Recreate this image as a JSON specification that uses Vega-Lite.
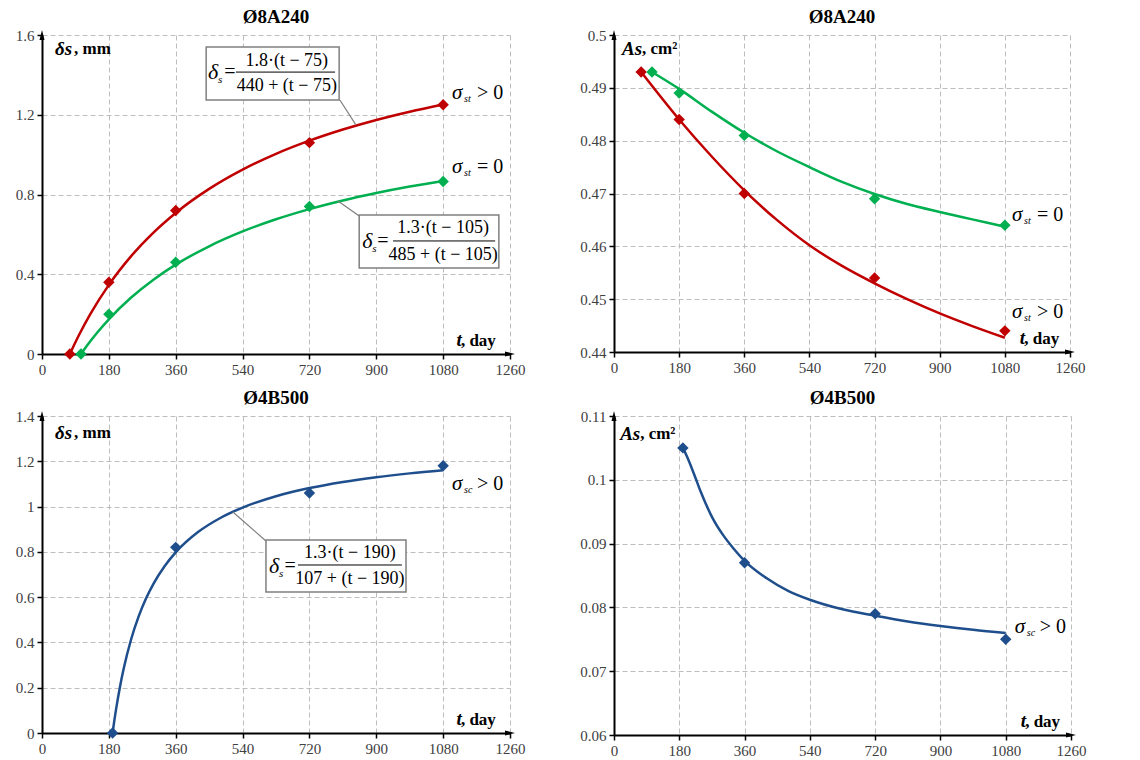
{
  "$schema": "https://vega.github.io/schema/vega-lite/v6.json",
  "padding": {"left": 15, "top": 8, "right": 5, "bottom": 5},
  "background": "white",
  "config": {
    "view": {"stroke": null},
    "font": "Liberation Serif",
    "axis": {"labelFont": "Liberation Serif", "labelFontSize": 15, "labelColor": "#404040", "domainColor": "#000000", "domainWidth": 2, "tickColor": "#000000", "tickSize": 5, "tickWidth": 1.5, "gridColor": "#bdbdbd", "gridDash": [5, 3], "gridWidth": 1, "labelPadding": 3, "labelFlush": false, "labelOverlap": false},
    "title": {"font": "Liberation Serif", "fontSize": 19, "fontWeight": "bold", "color": "#000000", "offset": 1, "frame": "group"},
    "text": {"font": "Liberation Serif", "color": "#000000"}
  },
  "datasets": {
    "curves": [
      {"panel": "A", "series": "gt", "t": 75, "v": 0}, {"panel": "A", "series": "gt", "t": 90, "v": 0.0593}, {"panel": "A", "series": "gt", "t": 100, "v": 0.0968}, {"panel": "A", "series": "gt", "t": 130, "v": 0.2}, {"panel": "A", "series": "gt", "t": 180, "v": 0.3468}, {"panel": "A", "series": "gt", "t": 240, "v": 0.4909}, {"panel": "A", "series": "gt", "t": 300, "v": 0.609}, {"panel": "A", "series": "gt", "t": 360, "v": 0.7076}, {"panel": "A", "series": "gt", "t": 450, "v": 0.8282}, {"panel": "A", "series": "gt", "t": 540, "v": 0.9249}, {"panel": "A", "series": "gt", "t": 630, "v": 1.004}, {"panel": "A", "series": "gt", "t": 720, "v": 1.07}, {"panel": "A", "series": "gt", "t": 810, "v": 1.126}, {"panel": "A", "series": "gt", "t": 900, "v": 1.174}, {"panel": "A", "series": "gt", "t": 990, "v": 1.2155}, {"panel": "A", "series": "gt", "t": 1080, "v": 1.2519},
      {"panel": "A", "series": "eq", "t": 105, "v": 0}, {"panel": "A", "series": "eq", "t": 115, "v": 0.0263}, {"panel": "A", "series": "eq", "t": 130, "v": 0.0637}, {"panel": "A", "series": "eq", "t": 150, "v": 0.1104}, {"panel": "A", "series": "eq", "t": 180, "v": 0.1741}, {"panel": "A", "series": "eq", "t": 240, "v": 0.2831}, {"panel": "A", "series": "eq", "t": 300, "v": 0.3728}, {"panel": "A", "series": "eq", "t": 360, "v": 0.448}, {"panel": "A", "series": "eq", "t": 450, "v": 0.5404}, {"panel": "A", "series": "eq", "t": 540, "v": 0.6147}, {"panel": "A", "series": "eq", "t": 630, "v": 0.6757}, {"panel": "A", "series": "eq", "t": 720, "v": 0.7268}, {"panel": "A", "series": "eq", "t": 810, "v": 0.7702}, {"panel": "A", "series": "eq", "t": 900, "v": 0.8074}, {"panel": "A", "series": "eq", "t": 990, "v": 0.8398}, {"panel": "A", "series": "eq", "t": 1080, "v": 0.8682},
      {"panel": "B", "series": "gt", "t": 75, "v": 0.493}, {"panel": "B", "series": "gt", "t": 180, "v": 0.484}, {"panel": "B", "series": "gt", "t": 270, "v": 0.477}, {"panel": "B", "series": "gt", "t": 360, "v": 0.4706}, {"panel": "B", "series": "gt", "t": 450, "v": 0.465}, {"panel": "B", "series": "gt", "t": 540, "v": 0.4602}, {"panel": "B", "series": "gt", "t": 630, "v": 0.4563}, {"panel": "B", "series": "gt", "t": 720, "v": 0.453}, {"panel": "B", "series": "gt", "t": 810, "v": 0.45}, {"panel": "B", "series": "gt", "t": 900, "v": 0.4473}, {"panel": "B", "series": "gt", "t": 990, "v": 0.4449}, {"panel": "B", "series": "gt", "t": 1080, "v": 0.4427},
      {"panel": "B", "series": "eq", "t": 105, "v": 0.493}, {"panel": "B", "series": "eq", "t": 180, "v": 0.4898}, {"panel": "B", "series": "eq", "t": 270, "v": 0.4855}, {"panel": "B", "series": "eq", "t": 360, "v": 0.4815}, {"panel": "B", "series": "eq", "t": 450, "v": 0.478}, {"panel": "B", "series": "eq", "t": 540, "v": 0.475}, {"panel": "B", "series": "eq", "t": 630, "v": 0.4722}, {"panel": "B", "series": "eq", "t": 720, "v": 0.4699}, {"panel": "B", "series": "eq", "t": 810, "v": 0.468}, {"panel": "B", "series": "eq", "t": 900, "v": 0.4665}, {"panel": "B", "series": "eq", "t": 990, "v": 0.4651}, {"panel": "B", "series": "eq", "t": 1080, "v": 0.4637},
      {"panel": "C", "series": "sc", "t": 190, "v": 0}, {"panel": "C", "series": "sc", "t": 195, "v": 0.058}, {"panel": "C", "series": "sc", "t": 200, "v": 0.1111}, {"panel": "C", "series": "sc", "t": 210, "v": 0.2047}, {"panel": "C", "series": "sc", "t": 220, "v": 0.2847}, {"panel": "C", "series": "sc", "t": 240, "v": 0.414}, {"panel": "C", "series": "sc", "t": 260, "v": 0.5141}, {"panel": "C", "series": "sc", "t": 280, "v": 0.5939}, {"panel": "C", "series": "sc", "t": 300, "v": 0.659}, {"panel": "C", "series": "sc", "t": 330, "v": 0.7368}, {"panel": "C", "series": "sc", "t": 360, "v": 0.7978}, {"panel": "C", "series": "sc", "t": 420, "v": 0.8872}, {"panel": "C", "series": "sc", "t": 480, "v": 0.9496}, {"panel": "C", "series": "sc", "t": 540, "v": 0.9956}, {"panel": "C", "series": "sc", "t": 630, "v": 1.0457}, {"panel": "C", "series": "sc", "t": 720, "v": 1.0816}, {"panel": "C", "series": "sc", "t": 810, "v": 1.1087}, {"panel": "C", "series": "sc", "t": 900, "v": 1.1297}, {"panel": "C", "series": "sc", "t": 990, "v": 1.1466}, {"panel": "C", "series": "sc", "t": 1080, "v": 1.1605},
      {"panel": "D", "series": "sc", "t": 190, "v": 0.105}, {"panel": "D", "series": "sc", "t": 200, "v": 0.1038}, {"panel": "D", "series": "sc", "t": 220, "v": 0.101}, {"panel": "D", "series": "sc", "t": 240, "v": 0.098}, {"panel": "D", "series": "sc", "t": 270, "v": 0.0942}, {"panel": "D", "series": "sc", "t": 300, "v": 0.0914}, {"panel": "D", "series": "sc", "t": 330, "v": 0.0892}, {"panel": "D", "series": "sc", "t": 360, "v": 0.0873}, {"panel": "D", "series": "sc", "t": 420, "v": 0.0846}, {"panel": "D", "series": "sc", "t": 480, "v": 0.0826}, {"panel": "D", "series": "sc", "t": 540, "v": 0.0812}, {"panel": "D", "series": "sc", "t": 630, "v": 0.0797}, {"panel": "D", "series": "sc", "t": 720, "v": 0.0787}, {"panel": "D", "series": "sc", "t": 810, "v": 0.0778}, {"panel": "D", "series": "sc", "t": 900, "v": 0.0771}, {"panel": "D", "series": "sc", "t": 990, "v": 0.0765}, {"panel": "D", "series": "sc", "t": 1080, "v": 0.076}
    ],
    "points": [
      {"panel": "A", "series": "gt", "t": 75, "v": 0}, {"panel": "A", "series": "gt", "t": 180, "v": 0.36}, {"panel": "A", "series": "gt", "t": 360, "v": 0.72}, {"panel": "A", "series": "gt", "t": 720, "v": 1.06}, {"panel": "A", "series": "gt", "t": 1080, "v": 1.25},
      {"panel": "A", "series": "eq", "t": 105, "v": 0}, {"panel": "A", "series": "eq", "t": 180, "v": 0.2}, {"panel": "A", "series": "eq", "t": 360, "v": 0.46}, {"panel": "A", "series": "eq", "t": 720, "v": 0.74}, {"panel": "A", "series": "eq", "t": 1080, "v": 0.865},
      {"panel": "B", "series": "gt", "t": 75, "v": 0.493}, {"panel": "B", "series": "gt", "t": 180, "v": 0.484}, {"panel": "B", "series": "gt", "t": 360, "v": 0.47}, {"panel": "B", "series": "gt", "t": 720, "v": 0.454}, {"panel": "B", "series": "gt", "t": 1080, "v": 0.444},
      {"panel": "B", "series": "eq", "t": 105, "v": 0.493}, {"panel": "B", "series": "eq", "t": 180, "v": 0.489}, {"panel": "B", "series": "eq", "t": 360, "v": 0.481}, {"panel": "B", "series": "eq", "t": 720, "v": 0.469}, {"panel": "B", "series": "eq", "t": 1080, "v": 0.464},
      {"panel": "C", "series": "sc", "t": 190, "v": 0}, {"panel": "C", "series": "sc", "t": 360, "v": 0.82}, {"panel": "C", "series": "sc", "t": 720, "v": 1.06}, {"panel": "C", "series": "sc", "t": 1080, "v": 1.18},
      {"panel": "D", "series": "sc", "t": 190, "v": 0.105}, {"panel": "D", "series": "sc", "t": 360, "v": 0.087}, {"panel": "D", "series": "sc", "t": 720, "v": 0.079}, {"panel": "D", "series": "sc", "t": 1080, "v": 0.075}
    ]
  },
  "spacing": 12,
  "vconcat": [
    {
      "spacing": 104,
      "bounds": "flush",
      "hconcat": [
        {
          "width": 468, "height": 319,
          "title": "Ø8A240",
          "data": {"values": [{}]},
          "layer": [
            {"data": {"name": "curves"}, "transform": [{"filter": "datum.panel == 'A'"}], "mark": {"type": "line", "interpolate": "monotone", "strokeWidth": 2.5},
             "encoding": {"x": {"field": "t", "type": "quantitative", "title": null, "scale": {"domain": [0, 1260], "nice": false}, "axis": {"values": [0, 180, 360, 540, 720, 900, 1080, 1260], "format": "d", "title": null}},
                          "y": {"field": "v", "type": "quantitative", "title": null, "scale": {"domain": [0, 1.6], "nice": false}, "axis": {"values": [0, 0.4, 0.8, 1.2, 1.6], "format": "~g", "title": null}},
                          "color": {"field": "series", "type": "nominal", "scale": {"domain": ["gt", "eq", "sc"], "range": ["#C00000", "#00B050", "#1F4E8C"]}, "legend": null}}},
            {"data": {"name": "points"}, "transform": [{"filter": "datum.panel == 'A'"}], "mark": {"type": "point", "shape": "diamond", "filled": true, "size": 130, "opacity": 1},
             "encoding": {"x": {"field": "t", "type": "quantitative", "title": null}, "y": {"field": "v", "type": "quantitative", "title": null}, "color": {"field": "series", "type": "nominal", "legend": null}}},
            {"mark": {"type": "point", "shape": "M-1,-0.5L1,0L-1,0.5Z", "filled": true, "color": "#000000", "size": 100, "opacity": 1}, "encoding": {"x": {"datum": 1260}, "y": {"datum": 0}}},
            {"mark": {"type": "point", "shape": "M-0.5,1L0,-1L0.5,1Z", "filled": true, "color": "#000000", "size": 100, "opacity": 1}, "encoding": {"x": {"datum": 0}, "y": {"datum": 1.6}}},
            {"mark": {"type": "rule", "color": "#7f7f7f", "strokeWidth": 1.2}, "encoding": {"x": {"datum": 802}, "y": {"datum": 1.274}, "x2": {"datum": 845}, "y2": {"datum": 1.149}}},
            {"mark": {"type": "rect", "fill": "#ffffff", "stroke": "#808080", "strokeWidth": 1.5}, "encoding": {"x": {"datum": 442}, "x2": {"datum": 800}, "y": {"datum": 1.54}, "y2": {"datum": 1.274}}},
            {"mark": {"type": "text", "text": "δ", "fontStyle": "italic", "fontSize": 22, "align": "left", "baseline": "middle"}, "encoding": {"x": {"datum": 447}, "y": {"datum": 1.414}}},
            {"mark": {"type": "text", "text": "s", "fontStyle": "italic", "fontSize": 11, "align": "left", "baseline": "middle", "dx": 10, "dy": 8}, "encoding": {"x": {"datum": 447}, "y": {"datum": 1.414}}},
            {"mark": {"type": "text", "text": "=", "fontSize": 20, "align": "center", "baseline": "middle"}, "encoding": {"x": {"datum": 506}, "y": {"datum": 1.414}}},
            {"mark": {"type": "text", "text": "1.8·(t − 75)", "fontSize": 18, "align": "center", "baseline": "middle"}, "encoding": {"x": {"datum": 659}, "y": {"datum": 1.47}}},
            {"mark": {"type": "rule", "color": "#000000", "strokeWidth": 1}, "encoding": {"x": {"datum": 522}, "x2": {"datum": 789}, "y": {"datum": 1.414}}},
            {"mark": {"type": "text", "text": "440 + (t − 75)", "fontSize": 18, "align": "center", "baseline": "middle"}, "encoding": {"x": {"datum": 659}, "y": {"datum": 1.344}}},
            {"mark": {"type": "rule", "color": "#7f7f7f", "strokeWidth": 1.2}, "encoding": {"x": {"datum": 797}, "y": {"datum": 0.767}, "x2": {"datum": 854}, "y2": {"datum": 0.692}}},
            {"mark": {"type": "rect", "fill": "#ffffff", "stroke": "#808080", "strokeWidth": 1.5}, "encoding": {"x": {"datum": 854}, "x2": {"datum": 1230}, "y": {"datum": 0.697}, "y2": {"datum": 0.431}}},
            {"mark": {"type": "text", "text": "δ", "fontStyle": "italic", "fontSize": 22, "align": "left", "baseline": "middle"}, "encoding": {"x": {"datum": 862}, "y": {"datum": 0.567}}},
            {"mark": {"type": "text", "text": "s", "fontStyle": "italic", "fontSize": 11, "align": "left", "baseline": "middle", "dx": 10, "dy": 8}, "encoding": {"x": {"datum": 862}, "y": {"datum": 0.567}}},
            {"mark": {"type": "text", "text": "=", "fontSize": 20, "align": "center", "baseline": "middle"}, "encoding": {"x": {"datum": 918}, "y": {"datum": 0.567}}},
            {"mark": {"type": "text", "text": "1.3·(t − 105)", "fontSize": 18, "align": "center", "baseline": "middle"}, "encoding": {"x": {"datum": 1080}, "y": {"datum": 0.632}}},
            {"mark": {"type": "rule", "color": "#000000", "strokeWidth": 1}, "encoding": {"x": {"datum": 945}, "x2": {"datum": 1220}, "y": {"datum": 0.567}}},
            {"mark": {"type": "text", "text": "485 + (t − 105)", "fontSize": 18, "align": "center", "baseline": "middle"}, "encoding": {"x": {"datum": 1080}, "y": {"datum": 0.497}}},
            {"mark": {"type": "text", "text": "σ", "fontStyle": "italic", "fontSize": 21, "align": "left", "baseline": "middle"}, "encoding": {"x": {"datum": 1104}, "y": {"datum": 1.309}}},
            {"mark": {"type": "text", "text": "st", "fontStyle": "italic", "fontSize": 10, "align": "left", "baseline": "middle", "dx": 12, "dy": 6}, "encoding": {"x": {"datum": 1104}, "y": {"datum": 1.309}}},
            {"mark": {"type": "text", "text": "> 0", "fontSize": 20, "align": "left", "baseline": "middle", "dx": 25}, "encoding": {"x": {"datum": 1104}, "y": {"datum": 1.309}}},
            {"mark": {"type": "text", "text": "σ", "fontStyle": "italic", "fontSize": 21, "align": "left", "baseline": "middle"}, "encoding": {"x": {"datum": 1104}, "y": {"datum": 0.938}}},
            {"mark": {"type": "text", "text": "st", "fontStyle": "italic", "fontSize": 10, "align": "left", "baseline": "middle", "dx": 12, "dy": 6}, "encoding": {"x": {"datum": 1104}, "y": {"datum": 0.938}}},
            {"mark": {"type": "text", "text": "= 0", "fontSize": 20, "align": "left", "baseline": "middle", "dx": 25}, "encoding": {"x": {"datum": 1104}, "y": {"datum": 0.938}}},
            {"mark": {"type": "text", "text": "δs", "fontStyle": "italic", "fontWeight": "bold", "fontSize": 19, "align": "left", "baseline": "middle"}, "encoding": {"x": {"datum": 35}, "y": {"datum": 1.53}}},
            {"mark": {"type": "text", "text": ", mm", "fontWeight": "bold", "fontSize": 17, "align": "left", "baseline": "middle", "dx": 19}, "encoding": {"x": {"datum": 35}, "y": {"datum": 1.53}}},
            {"mark": {"type": "text", "text": ", day", "fontWeight": "bold", "fontSize": 17, "align": "right", "baseline": "alphabetic", "dy": -8}, "encoding": {"x": {"datum": 1222}, "y": {"datum": 0}}},
            {"mark": {"type": "text", "text": "t", "fontStyle": "italic", "fontWeight": "bold", "fontSize": 19, "align": "right", "baseline": "alphabetic", "dx": -34, "dy": -8}, "encoding": {"x": {"datum": 1222}, "y": {"datum": 0}}}
          ]
        },
        {
          "width": 456, "height": 317,
          "title": "Ø8A240",
          "data": {"values": [{}]},
          "layer": [
            {"data": {"name": "curves"}, "transform": [{"filter": "datum.panel == 'B'"}], "mark": {"type": "line", "interpolate": "monotone", "strokeWidth": 2.5},
             "encoding": {"x": {"field": "t", "type": "quantitative", "title": null, "scale": {"domain": [0, 1260], "nice": false}, "axis": {"values": [0, 180, 360, 540, 720, 900, 1080, 1260], "format": "d", "title": null}},
                          "y": {"field": "v", "type": "quantitative", "title": null, "scale": {"domain": [0.44, 0.5], "nice": false, "zero": false}, "axis": {"values": [0.44, 0.45, 0.46, 0.47, 0.48, 0.49, 0.5], "format": "~g", "title": null}},
                          "color": {"field": "series", "type": "nominal", "scale": {"domain": ["gt", "eq", "sc"], "range": ["#C00000", "#00B050", "#1F4E8C"]}, "legend": null}}},
            {"data": {"name": "points"}, "transform": [{"filter": "datum.panel == 'B'"}], "mark": {"type": "point", "shape": "diamond", "filled": true, "size": 130, "opacity": 1},
             "encoding": {"x": {"field": "t", "type": "quantitative", "title": null}, "y": {"field": "v", "type": "quantitative", "title": null}, "color": {"field": "series", "type": "nominal", "legend": null}}},
            {"mark": {"type": "point", "shape": "M-1,-0.5L1,0L-1,0.5Z", "filled": true, "color": "#000000", "size": 100, "opacity": 1}, "encoding": {"x": {"datum": 1260}, "y": {"datum": 0.44}}},
            {"mark": {"type": "point", "shape": "M-0.5,1L0,-1L0.5,1Z", "filled": true, "color": "#000000", "size": 100, "opacity": 1}, "encoding": {"x": {"datum": 0}, "y": {"datum": 0.5}}},
            {"mark": {"type": "text", "text": "σ", "fontStyle": "italic", "fontSize": 21, "align": "left", "baseline": "middle"}, "encoding": {"x": {"datum": 1100}, "y": {"datum": 0.4659}}},
            {"mark": {"type": "text", "text": "st", "fontStyle": "italic", "fontSize": 10, "align": "left", "baseline": "middle", "dx": 12, "dy": 6}, "encoding": {"x": {"datum": 1100}, "y": {"datum": 0.4659}}},
            {"mark": {"type": "text", "text": "= 0", "fontSize": 20, "align": "left", "baseline": "middle", "dx": 25}, "encoding": {"x": {"datum": 1100}, "y": {"datum": 0.4659}}},
            {"mark": {"type": "text", "text": "σ", "fontStyle": "italic", "fontSize": 21, "align": "left", "baseline": "middle"}, "encoding": {"x": {"datum": 1100}, "y": {"datum": 0.4476}}},
            {"mark": {"type": "text", "text": "st", "fontStyle": "italic", "fontSize": 10, "align": "left", "baseline": "middle", "dx": 12, "dy": 6}, "encoding": {"x": {"datum": 1100}, "y": {"datum": 0.4476}}},
            {"mark": {"type": "text", "text": "> 0", "fontSize": 20, "align": "left", "baseline": "middle", "dx": 25}, "encoding": {"x": {"datum": 1100}, "y": {"datum": 0.4476}}},
            {"mark": {"type": "text", "text": "As", "fontStyle": "italic", "fontWeight": "bold", "fontSize": 19, "align": "left", "baseline": "middle"}, "encoding": {"x": {"datum": 22}, "y": {"datum": 0.4973}}},
            {"mark": {"type": "text", "text": ", cm²", "fontWeight": "bold", "fontSize": 17, "align": "left", "baseline": "middle", "dx": 20}, "encoding": {"x": {"datum": 22}, "y": {"datum": 0.4973}}},
            {"mark": {"type": "text", "text": ", day", "fontWeight": "bold", "fontSize": 17, "align": "right", "baseline": "alphabetic", "dy": -8}, "encoding": {"x": {"datum": 1230}, "y": {"datum": 0.44}}},
            {"mark": {"type": "text", "text": "t", "fontStyle": "italic", "fontWeight": "bold", "fontSize": 19, "align": "right", "baseline": "alphabetic", "dx": -34, "dy": -8}, "encoding": {"x": {"datum": 1230}, "y": {"datum": 0.44}}}
          ]
        }
      ]
    },
    {
      "spacing": 104,
      "bounds": "flush",
      "hconcat": [
        {
          "width": 468, "height": 317,
          "title": "Ø4B500",
          "data": {"values": [{}]},
          "layer": [
            {"data": {"name": "curves"}, "transform": [{"filter": "datum.panel == 'C'"}], "mark": {"type": "line", "interpolate": "monotone", "strokeWidth": 2.5},
             "encoding": {"x": {"field": "t", "type": "quantitative", "title": null, "scale": {"domain": [0, 1260], "nice": false}, "axis": {"values": [0, 180, 360, 540, 720, 900, 1080, 1260], "format": "d", "title": null}},
                          "y": {"field": "v", "type": "quantitative", "title": null, "scale": {"domain": [0, 1.4], "nice": false}, "axis": {"values": [0, 0.2, 0.4, 0.6, 0.8, 1, 1.2, 1.4], "format": "~g", "title": null}},
                          "color": {"field": "series", "type": "nominal", "scale": {"domain": ["gt", "eq", "sc"], "range": ["#C00000", "#00B050", "#1F4E8C"]}, "legend": null}}},
            {"data": {"name": "points"}, "transform": [{"filter": "datum.panel == 'C'"}], "mark": {"type": "point", "shape": "diamond", "filled": true, "size": 130, "opacity": 1},
             "encoding": {"x": {"field": "t", "type": "quantitative", "title": null}, "y": {"field": "v", "type": "quantitative", "title": null}, "color": {"field": "series", "type": "nominal", "legend": null}}},
            {"mark": {"type": "point", "shape": "M-1,-0.5L1,0L-1,0.5Z", "filled": true, "color": "#000000", "size": 100, "opacity": 1}, "encoding": {"x": {"datum": 1260}, "y": {"datum": 0}}},
            {"mark": {"type": "point", "shape": "M-0.5,1L0,-1L0.5,1Z", "filled": true, "color": "#000000", "size": 100, "opacity": 1}, "encoding": {"x": {"datum": 0}, "y": {"datum": 1.4}}},
            {"mark": {"type": "rule", "color": "#7f7f7f", "strokeWidth": 1.2}, "encoding": {"x": {"datum": 514}, "y": {"datum": 0.976}, "x2": {"datum": 603}, "y2": {"datum": 0.848}}},
            {"mark": {"type": "rect", "fill": "#ffffff", "stroke": "#808080", "strokeWidth": 1.5}, "encoding": {"x": {"datum": 603}, "x2": {"datum": 980}, "y": {"datum": 0.852}, "y2": {"datum": 0.623}}},
            {"mark": {"type": "text", "text": "δ", "fontStyle": "italic", "fontSize": 22, "align": "left", "baseline": "middle"}, "encoding": {"x": {"datum": 611}, "y": {"datum": 0.737}}},
            {"mark": {"type": "text", "text": "s", "fontStyle": "italic", "fontSize": 11, "align": "left", "baseline": "middle", "dx": 10, "dy": 8}, "encoding": {"x": {"datum": 611}, "y": {"datum": 0.737}}},
            {"mark": {"type": "text", "text": "=", "fontSize": 20, "align": "center", "baseline": "middle"}, "encoding": {"x": {"datum": 668}, "y": {"datum": 0.737}}},
            {"mark": {"type": "text", "text": "1.3·(t − 190)", "fontSize": 18, "align": "center", "baseline": "middle"}, "encoding": {"x": {"datum": 829}, "y": {"datum": 0.795}}},
            {"mark": {"type": "rule", "color": "#000000", "strokeWidth": 1}, "encoding": {"x": {"datum": 689}, "x2": {"datum": 969}, "y": {"datum": 0.742}}},
            {"mark": {"type": "text", "text": "107 + (t − 190)", "fontSize": 18, "align": "center", "baseline": "middle"}, "encoding": {"x": {"datum": 829}, "y": {"datum": 0.68}}},
            {"mark": {"type": "text", "text": "σ", "fontStyle": "italic", "fontSize": 21, "align": "left", "baseline": "middle"}, "encoding": {"x": {"datum": 1104}, "y": {"datum": 1.1}}},
            {"mark": {"type": "text", "text": "sc", "fontStyle": "italic", "fontSize": 10, "align": "left", "baseline": "middle", "dx": 12, "dy": 6}, "encoding": {"x": {"datum": 1104}, "y": {"datum": 1.1}}},
            {"mark": {"type": "text", "text": "> 0", "fontSize": 20, "align": "left", "baseline": "middle", "dx": 25}, "encoding": {"x": {"datum": 1104}, "y": {"datum": 1.1}}},
            {"mark": {"type": "text", "text": "δs", "fontStyle": "italic", "fontWeight": "bold", "fontSize": 19, "align": "left", "baseline": "middle"}, "encoding": {"x": {"datum": 35}, "y": {"datum": 1.325}}},
            {"mark": {"type": "text", "text": ", mm", "fontWeight": "bold", "fontSize": 17, "align": "left", "baseline": "middle", "dx": 19}, "encoding": {"x": {"datum": 35}, "y": {"datum": 1.325}}},
            {"mark": {"type": "text", "text": ", day", "fontWeight": "bold", "fontSize": 17, "align": "right", "baseline": "alphabetic", "dy": -8}, "encoding": {"x": {"datum": 1222}, "y": {"datum": 0}}},
            {"mark": {"type": "text", "text": "t", "fontStyle": "italic", "fontWeight": "bold", "fontSize": 19, "align": "right", "baseline": "alphabetic", "dx": -34, "dy": -8}, "encoding": {"x": {"datum": 1222}, "y": {"datum": 0}}}
          ]
        },
        {
          "width": 457, "height": 319,
          "title": "Ø4B500",
          "data": {"values": [{}]},
          "layer": [
            {"data": {"name": "curves"}, "transform": [{"filter": "datum.panel == 'D'"}], "mark": {"type": "line", "interpolate": "monotone", "strokeWidth": 2.5},
             "encoding": {"x": {"field": "t", "type": "quantitative", "title": null, "scale": {"domain": [0, 1260], "nice": false}, "axis": {"values": [0, 180, 360, 540, 720, 900, 1080, 1260], "format": "d", "title": null}},
                          "y": {"field": "v", "type": "quantitative", "title": null, "scale": {"domain": [0.06, 0.11], "nice": false, "zero": false}, "axis": {"values": [0.06, 0.07, 0.08, 0.09, 0.1, 0.11], "format": "~g", "title": null}},
                          "color": {"field": "series", "type": "nominal", "scale": {"domain": ["gt", "eq", "sc"], "range": ["#C00000", "#00B050", "#1F4E8C"]}, "legend": null}}},
            {"data": {"name": "points"}, "transform": [{"filter": "datum.panel == 'D'"}], "mark": {"type": "point", "shape": "diamond", "filled": true, "size": 130, "opacity": 1},
             "encoding": {"x": {"field": "t", "type": "quantitative", "title": null}, "y": {"field": "v", "type": "quantitative", "title": null}, "color": {"field": "series", "type": "nominal", "legend": null}}},
            {"mark": {"type": "point", "shape": "M-1,-0.5L1,0L-1,0.5Z", "filled": true, "color": "#000000", "size": 100, "opacity": 1}, "encoding": {"x": {"datum": 1260}, "y": {"datum": 0.06}}},
            {"mark": {"type": "point", "shape": "M-0.5,1L0,-1L0.5,1Z", "filled": true, "color": "#000000", "size": 100, "opacity": 1}, "encoding": {"x": {"datum": 0}, "y": {"datum": 0.11}}},
            {"mark": {"type": "text", "text": "σ", "fontStyle": "italic", "fontSize": 21, "align": "left", "baseline": "middle"}, "encoding": {"x": {"datum": 1105}, "y": {"datum": 0.0769}}},
            {"mark": {"type": "text", "text": "sc", "fontStyle": "italic", "fontSize": 10, "align": "left", "baseline": "middle", "dx": 12, "dy": 6}, "encoding": {"x": {"datum": 1105}, "y": {"datum": 0.0769}}},
            {"mark": {"type": "text", "text": "> 0", "fontSize": 20, "align": "left", "baseline": "middle", "dx": 25}, "encoding": {"x": {"datum": 1105}, "y": {"datum": 0.0769}}},
            {"mark": {"type": "text", "text": "As", "fontStyle": "italic", "fontWeight": "bold", "fontSize": 19, "align": "left", "baseline": "middle"}, "encoding": {"x": {"datum": 17}, "y": {"datum": 0.1072}}},
            {"mark": {"type": "text", "text": ", cm²", "fontWeight": "bold", "fontSize": 17, "align": "left", "baseline": "middle", "dx": 20}, "encoding": {"x": {"datum": 17}, "y": {"datum": 0.1072}}},
            {"mark": {"type": "text", "text": ", day", "fontWeight": "bold", "fontSize": 17, "align": "right", "baseline": "alphabetic", "dy": -8}, "encoding": {"x": {"datum": 1230}, "y": {"datum": 0.06}}},
            {"mark": {"type": "text", "text": "t", "fontStyle": "italic", "fontWeight": "bold", "fontSize": 19, "align": "right", "baseline": "alphabetic", "dx": -34, "dy": -8}, "encoding": {"x": {"datum": 1230}, "y": {"datum": 0.06}}}
          ]
        }
      ]
    }
  ]
}
